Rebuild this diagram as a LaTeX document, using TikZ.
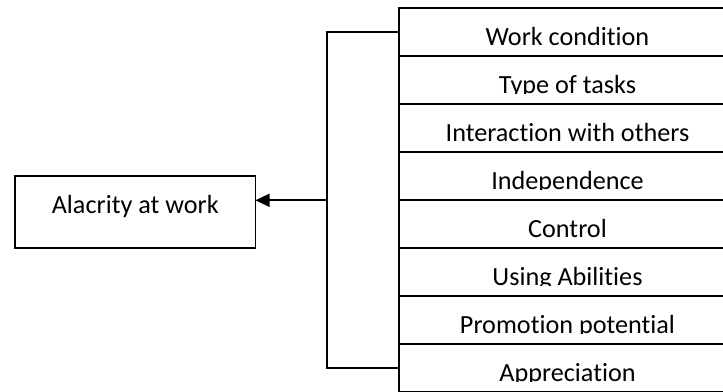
\documentclass[tikz,border=0pt]{standalone}
\usepackage{fontspec}
\setmainfont{Carlito}[Ligatures={NoCommon}]
\usetikzlibrary{arrows.meta}
\begin{document}
\begin{tikzpicture}[x=1pt,y=-1pt,
  line width=1.8pt,
  lbl/.style={font=\fontsize{26.2}{30}\selectfont, inner sep=0, outer sep=0},
  rowbox/.style={draw, fill=white, anchor=north west,
    minimum width=337pt, minimum height=48pt, inner sep=0, outer sep=0,
    path picture={
      \clip (path picture bounding box.north west) rectangle
            ([yshift=-37.4pt]path picture bounding box.north east);
      \node[lbl, anchor=base] at ([yshift=-36.8pt]path picture bounding box.north) {#1};
    }},
  mainbox/.style={draw, anchor=north west, lbl,
    minimum width=240.5pt, minimum height=72.3pt,
    text height=18pt, text depth=15.7pt},
  conn/.style={line width=1.8pt}
]
\useasboundingbox (0,0) rectangle (723,391);
\clip (0,0) rectangle (723,391);

\node[rowbox={Work condition}]          (r1) at (399,8.3)   {};
\node[rowbox={Type of tasks}]           (r2) at (399,56.3)  {};
\node[rowbox={Interaction with others}] (r3) at (399,104.3) {};
\node[rowbox={Independence}]            (r4) at (399,152.3) {};
\node[rowbox={Control}]                 (r5) at (399,200.3) {};
\node[rowbox={Using Abilities}]         (r6) at (399,248.3) {};
\node[rowbox={Promotion potential}]     (r7) at (399,296.3) {};
\node[rowbox={Appreciation}]            (r8) at (399,344.3) {};

\node[mainbox] (alac) at (15,176) {Alacrity at work};

\coordinate (jn) at (326.7,200.3);
\draw[conn] (r1.west) -| (jn) |- (r8.west);
\draw[conn, -{Triangle[length=14pt,width=13pt]}] (jn) -- (jn -| alac.east);
\end{tikzpicture}
\end{document}
